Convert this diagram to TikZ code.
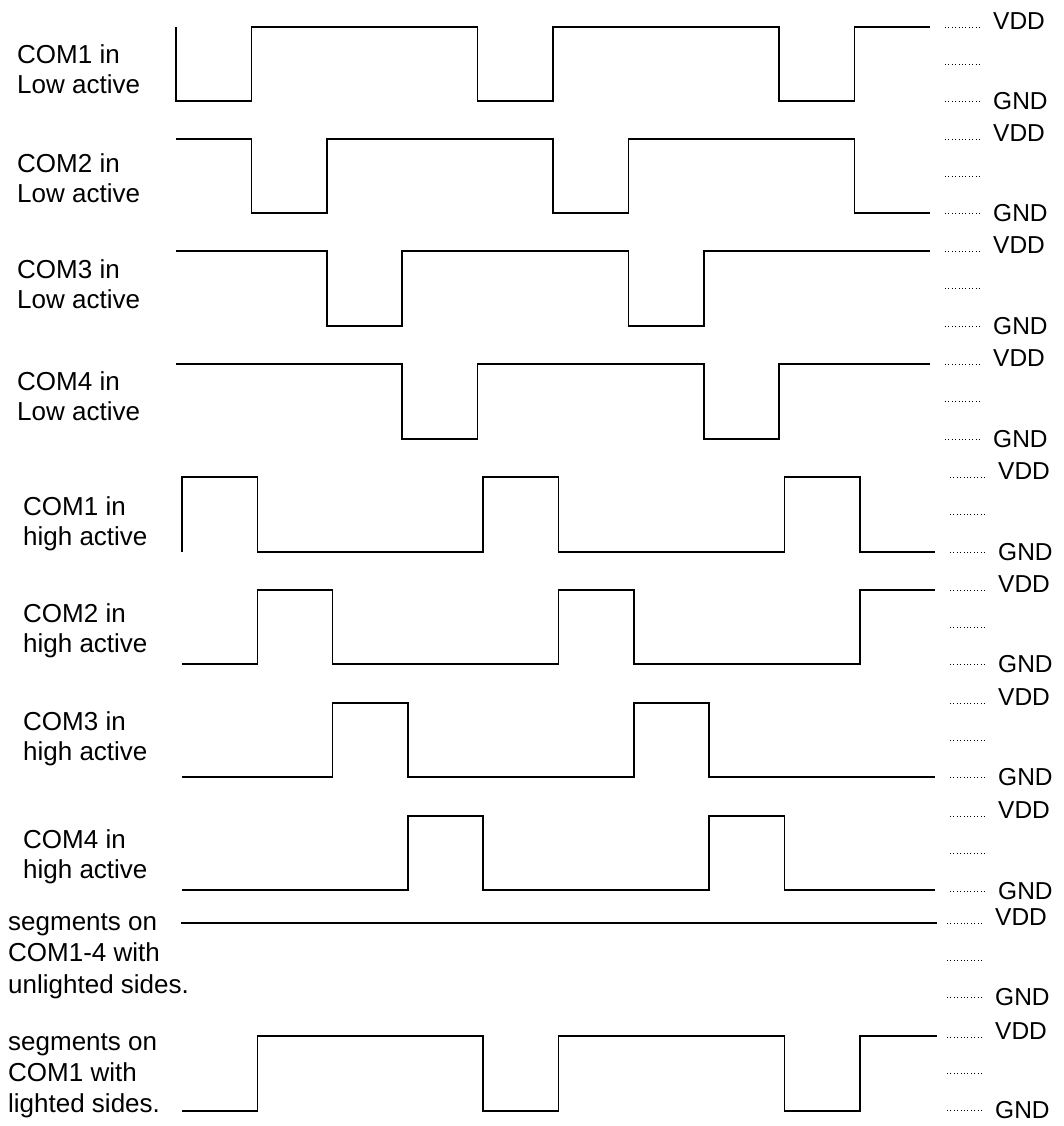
\documentclass[tikz,border=0pt]{standalone}
\usepackage{fontspec}
\setmainfont{Liberation Sans}

\tikzset{
  wave/.style={line width=1.6pt, line join=miter},
  raildots/.style={line width=0.9pt, dash pattern=on 1pt off 2.4pt},
  lbl/.style={font=\fontsize{26}{30}\selectfont, align=left, anchor=base west, inner sep=0pt},
  rail/.style={font=\fontsize{24.5}{28}\selectfont, anchor=west, inner sep=0pt},
}

\begin{document}
\begin{tikzpicture}[x=1pt, y=-1pt]
    \useasboundingbox (0,0) rectangle (1064,1126);

    % low active commons
    \begin{scope}[shift={(176,0)}, x=75.4pt]
      \draw[wave] (0,27) -- (0,101) -- (1,101) -- (1,27) -- (4,27) -- (4,101) -- (5,101) -- (5,27) -- (8,27) -- (8,101) -- (9,101) -- (9,27) -- (10,27);
      \draw[wave] (0,139) -- (1,139) -- (1,213) -- (2,213) -- (2,139) -- (5,139) -- (5,213) -- (6,213) -- (6,139) -- (9,139) -- (9,213) -- (10,213);
      \draw[wave] (0,251) -- (2,251) -- (2,326) -- (3,326) -- (3,251) -- (6,251) -- (6,326) -- (7,326) -- (7,251) -- (10,251);
      \draw[wave] (0,364) -- (3,364) -- (3,439) -- (4,439) -- (4,364) -- (7,364) -- (7,439) -- (8,439) -- (8,364) -- (10,364);
    \end{scope}

    % high active commons and segments
    \begin{scope}[shift={(182,0)}, x=75.3pt]
      \draw[wave] (0,552) -- (0,477) -- (1,477) -- (1,552) -- (4,552) -- (4,477) -- (5,477) -- (5,552) -- (8,552) -- (8,477) -- (9,477) -- (9,552) -- (10,552);
      \draw[wave] (0,664) -- (1,664) -- (1,590) -- (2,590) -- (2,664) -- (5,664) -- (5,590) -- (6,590) -- (6,664) -- (9,664) -- (9,590) -- (10,590);
      \draw[wave] (0,777) -- (2,777) -- (2,703) -- (3,703) -- (3,777) -- (6,777) -- (6,703) -- (7,703) -- (7,777) -- (10,777);
      \draw[wave] (0,890) -- (3,890) -- (3,816) -- (4,816) -- (4,890) -- (7,890) -- (7,816) -- (8,816) -- (8,890) -- (10,890);
      \draw[wave] (-0.01,923) -- (10.03,923);
      \draw[wave] (0,1111) -- (1,1111) -- (1,1036) -- (4,1036) -- (4,1111) -- (5,1111) -- (5,1036) -- (8,1036) -- (8,1111) -- (9,1111) -- (9,1036) -- (10.03,1036);
    \end{scope}

    % VDD / GND rails
    \foreach \yv/\yg/\xa [count=\i] in {27/101/945, 139/213/945, 251/326/945, 364/439/945,
        477/552/950, 590/664/950, 703/777/950, 816/891/950, 923/997/947, 1037/1110/947} {
        \draw[raildots] (\xa,\yv) -- ++(37,0);
        \draw[raildots] (\xa,{(\yv+\yg)/2}) -- ++(37,0);
        \draw[raildots] (\xa,\yg) -- ++(37,0);
        \node[rail] (vdd\i) at (\xa+48,\yv-6) {VDD};
        \node[rail] (gnd\i) at (\xa+48,\yg) {GND};
      }

    % signal names (base = last line)
    \node[lbl] (com1lo) at (17,94) {COM1 in\\Low active};
    \node[lbl] (com2lo) at (17,202) {COM2 in\\Low active};
    \node[lbl] (com3lo) at (17,308) {COM3 in\\Low active};
    \node[lbl] (com4lo) at (17,420) {COM4 in\\Low active};
    \node[lbl] (com1hi) at (23,545) {COM1 in\\high active};
    \node[lbl] (com2hi) at (23,652) {COM2 in\\high active};
    \node[lbl] (com3hi) at (23,760) {COM3 in\\high active};
    \node[lbl] (com4hi) at (23,878) {COM4 in\\high active};
    \node[lbl, font=\fontsize{26}{31.5}\selectfont] (segoff) at (8,993) {segments on\\COM1-4 with\\unlighted sides.};
    \node[lbl, font=\fontsize{26}{31}\selectfont] (segon) at (8,1112) {segments on\\COM1 with\\lighted sides.};
  \end{tikzpicture}
\end{document}
